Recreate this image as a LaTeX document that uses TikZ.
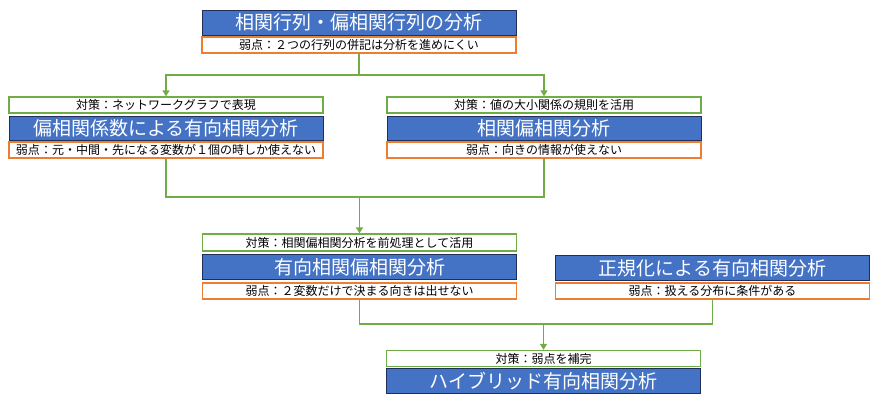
\documentclass[tikz,border=0pt]{standalone}
\usepackage{fontspec}
\setmainfont{Noto Sans CJK JP}
\usetikzlibrary{arrows.meta}
\definecolor{bfill}{HTML}{4472C4}
\definecolor{bline}{HTML}{1F2F5A}
\definecolor{oline}{HTML}{ED7D31}
\definecolor{gline}{HTML}{70AD47}
\tikzset{
  tbox/.style={draw=bline, fill=bfill, line width=1pt, minimum width=314, inner sep=0pt,
    text=white, font=\fontsize{19}{20}\selectfont},
  obox/.style={draw=oline, fill=white, line width=1.3pt, minimum width=314, minimum height=16, inner sep=0pt,
    font=\fontsize{12}{12}\selectfont},
  gbox/.style={draw=gline, fill=white, line width=1.3pt, minimum width=314, minimum height=16, inner sep=0pt,
    font=\fontsize{12}{12}\selectfont},
  conn/.style={draw=gline, line width=1.5pt},
  arr/.style={conn, -{Triangle[width=7pt,length=6pt]}}
}
\begin{document}
\begin{tikzpicture}[x=1pt,y=-1pt]
\useasboundingbox (0,0) rectangle (877,400);
% top
\node[tbox, minimum height=25] (t0) at (359,22.5) {相関行列・偏相関行列の分析};
\node[obox] (o0) at (359,45) {弱点：２つの行列の併記は分析を進めにくい};
% left
\node[gbox] (g1) at (166,105) {対策：ネットワークグラフで表現};
\node[tbox, minimum height=24] (t1) at (166,128) {偏相関係数による有向相関分析};
\node[obox] (o1) at (166,150) {弱点：元・中間・先になる変数が１個の時しか使えない};
% right
\node[gbox] (g2) at (544,105) {対策：値の大小関係の規則を活用};
\node[tbox, minimum height=24] (t2) at (544,128) {相関偏相関分析};
\node[obox] (o2) at (544,150) {弱点：向きの情報が使えない};
% middle
\node[gbox, minimum height=17] (g3) at (359.5,242.5) {対策：相関偏相関分析を前処理として活用};
\node[tbox, minimum height=25] (t3) at (359.5,267) {有向相関偏相関分析};
\node[obox] (o3) at (359.5,291) {弱点：２変数だけで決まる向きは出せない};
% right middle
\node[tbox, minimum height=25] (t4) at (712.5,268) {正規化による有向相関分析};
\node[obox] (o4) at (712.5,291) {弱点：扱える分布に条件がある};
% bottom
\node[gbox] (g5) at (543.5,358.5) {対策：弱点を補完};
\node[tbox, minimum height=25] (t5) at (543.5,381) {ハイブリッド有向相関分析};
% connectors
\coordinate (j1) at (359,75);
\coordinate (j2) at (359.5,197);
\coordinate (j3) at (543.5,324);
\draw[conn] (o0.south) -- (j1);
\draw[arr] (j1) -| (g1.north);
\draw[arr] (j1) -| (g2.north);
\draw[conn] (o1.south) |- (j2);
\draw[conn] (o2.south) |- (j2);
\draw[arr] (j2) -- (g3.north);
\draw[conn] (o3.south) |- (j3);
\draw[conn] (o4.south) |- (j3);
\draw[arr] (j3) -- (g5.north);
\end{tikzpicture}
\end{document}
